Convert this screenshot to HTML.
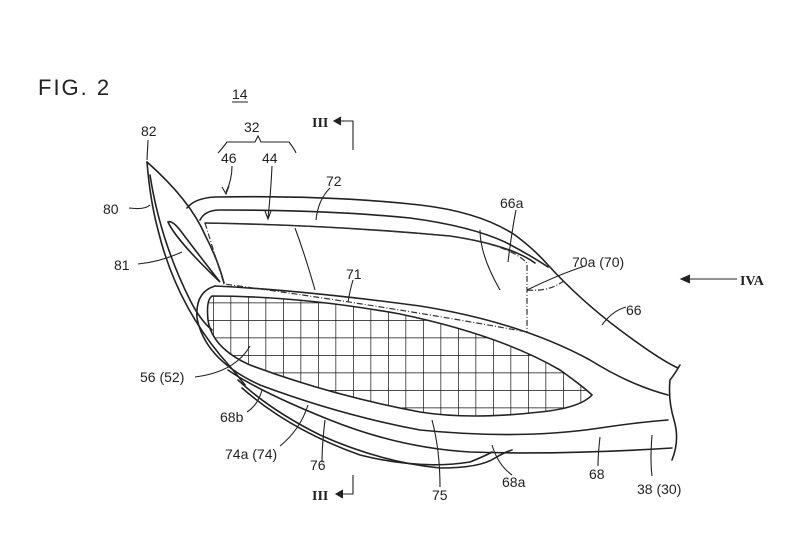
<!DOCTYPE html>
<html><head><style>
body{margin:0;background:#fff}
svg{display:block}
text{font-family:"Liberation Sans",sans-serif;font-size:14px;fill:#222}
</style></head><body>
<svg width="801" height="534" viewBox="0 0 801 534" xmlns="http://www.w3.org/2000/svg">
<defs>
<pattern id="g" width="17.5" height="17.5" patternUnits="userSpaceOnUse" x="3" y="5">
<path d="M0 0V17.5M0 0H17.5" stroke="#111" stroke-width="1.4" fill="none"/>
</pattern>
<clipPath id="c"><path d="M212 296 Q300 296 400 314 Q500 335 560 370 Q585 388 592 395 Q580 408 540 412 Q470 420 420 412 Q330 395 250 365 Q212 348 208 320 Q206 300 212 296Z"/></clipPath>
</defs>
<g fill="none" stroke="#222" stroke-width="1.6" stroke-linecap="round">
<rect x="200" y="290" width="400" height="130" fill="url(#g)" clip-path="url(#c)" stroke="none"/>
<path d="M212 296 Q300 296 400 314 Q500 335 560 370 Q585 388 592 395 Q580 408 540 412 Q470 420 420 412 Q330 395 250 365 Q212 348 208 320 Q206 300 212 296Z"/>
<path d="M215 286 Q300 290 420 306 Q520 322 590 360 Q630 385 668 395"/>
<path d="M215 286 Q195 292 197 318 Q205 360 260 385 Q340 415 420 430 Q520 440 600 428 Q640 422 668 420"/>
<path d="M228 370 Q260 392 330 420 Q400 448 470 452 Q560 455 672 448"/>
<path d="M238 380 Q270 410 320 435 Q380 462 440 468 Q480 468 495 458 Q505 452 512 450"/>
<path d="M242 388 Q290 430 360 455 Q420 470 470 462 Q485 456 492 452"/>
<path d="M680 365 Q674 375 670 380 Q668 400 674 420 Q680 440 672 460"/>
<path d="M147 162 Q150 200 158 230 Q175 300 220 355 Q235 372 245 385"/>
<path d="M147 162 Q190 200 205 235 Q218 260 224 283"/>
<path d="M150 175 Q160 240 190 300 Q200 320 212 330"/>
<path d="M168 222 Q176 240 220 282 Q195 250 180 230 Q172 220 168 222Z"/>
<path d="M187 208 Q195 198 215 197 Q330 195 420 205 Q480 212 515 235 Q535 250 548 265 Q580 300 620 330 Q660 360 678 368"/>
<path d="M200 220 Q205 210 220 210 Q330 210 410 218 Q470 226 505 242 Q530 255 548 267"/>
<path d="M205 223 Q330 225 450 236 Q510 245 535 263"/>
</g>
<g fill="none" stroke="#333" stroke-width="1.2" stroke-dasharray="6 2 1 2">
<path d="M205 223 Q330 225 450 236 Q510 245 527 263 L527 332"/>
<path d="M205 223 L224 284 Q380 305 527 332"/>
<path d="M527 290 Q550 292 565 280"/>
</g>
<g fill="none" stroke="#222" stroke-width="1.1">
<path d="M148 140 L147 160"/>
<path d="M129 208 Q145 210 150 205"/>
<path d="M138 264 Q160 262 182 252"/>
<path d="M218 153 Q221 150 227 142 L255 142 L258 136 L261 142 L289 142 Q295 150 296 153"/>
<path d="M232 166 Q232 180 226 192"/><path d="M229 186 L226 194 L222 187"/>
<path d="M272 166 Q271 190 268 218"/><path d="M271 211 L268 219 L265 211"/>
<path d="M330 188 Q318 200 316 220"/>
<path d="M516 210 Q512 230 508 262"/>
<path d="M480 230 Q480 255 500 290"/>
<path d="M295 228 Q305 255 315 290"/>
<path d="M353 280 Q350 290 348 302"/>
<path d="M585 266 Q560 274 527 290"/>
<path d="M626 307 Q612 311 602 325"/>
<path d="M195 377 Q235 372 250 346"/>
<path d="M247 412 Q258 405 262 390"/>
<path d="M280 446 Q300 430 308 405"/>
<path d="M322 462 Q322 445 325 420"/>
<path d="M440 487 Q440 450 432 420"/>
<path d="M512 475 Q498 465 492 445"/>
<path d="M598 466 Q598 455 600 437"/>
<path d="M652 476 Q650 460 652 435"/>
<path d="M336 121 L353 121 L353 150"/><path d="M341 117 L334 121 L341 125" fill="#222"/>
<path d="M353 475 L353 494 L338 494"/><path d="M343 490 L336 494 L343 498" fill="#222"/>
<path d="M737 279 L683 279"/><path d="M690 275 L681 279 L690 283" fill="#222"/>
</g>
<text x="38" y="95" style="font-size:22px;letter-spacing:2px">FIG. 2</text>
<text x="232" y="99">14</text><path d="M232 102 H248" stroke="#222"/>
<text x="141" y="136">82</text>
<text x="244" y="132">32</text>
<text x="221" y="163">46</text>
<text x="262" y="163">44</text>
<text x="312" y="127" style="font-family:'Liberation Serif',serif;font-weight:bold">III</text>
<text x="326" y="186">72</text>
<text x="500" y="208">66a</text>
<text x="572" y="267">70a (70)</text>
<text x="740" y="285" style="font-family:'Liberation Serif',serif;font-weight:bold">IVA</text>
<text x="103" y="214">80</text>
<text x="114" y="270">81</text>
<text x="346" y="279">71</text>
<text x="626" y="315">66</text>
<text x="140" y="382">56 (52)</text>
<text x="220" y="422">68b</text>
<text x="225" y="459">74a (74)</text>
<text x="310" y="470">76</text>
<text x="312" y="500" style="font-family:'Liberation Serif',serif;font-weight:bold">III</text>
<text x="432" y="500">75</text>
<text x="502" y="487">68a</text>
<text x="589" y="479">68</text>
<text x="637" y="494">38 (30)</text>
</svg>
</body></html>
